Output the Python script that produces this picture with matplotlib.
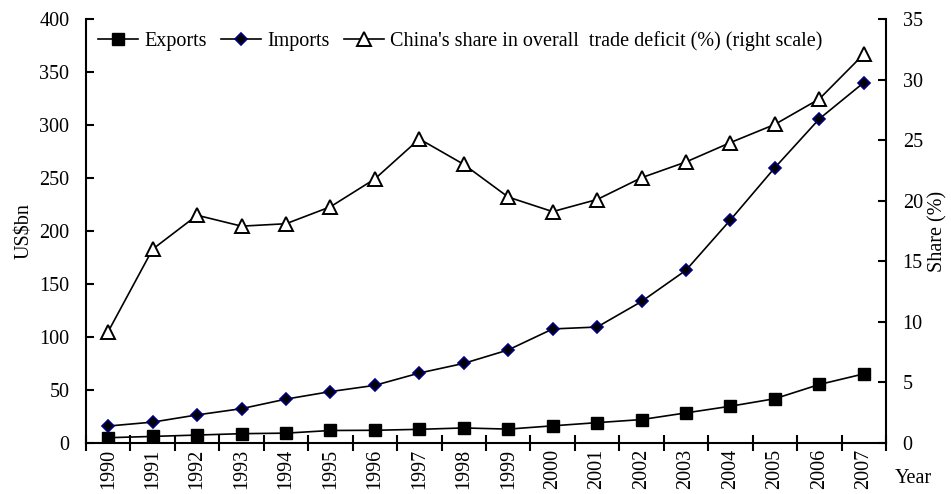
import matplotlib
matplotlib.use("Agg")
import matplotlib.pyplot as plt
import numpy as np

years = ["1990", "1991", "1992", "1993", "1994", "1995", "1996", "1997", "1998",
         "1999", "2000", "2001", "2002", "2003", "2004", "2005", "2006", "2007"]
exports = [5.0, 6.2, 7.5, 8.8, 9.3, 11.8, 12.0, 12.9, 14.2, 13.1, 16.2, 19.2,
           22.1, 28.4, 34.7, 41.8, 55.2, 65.2]
imports = [16.0, 19.7, 26.5, 32.4, 41.4, 48.5, 54.4, 66.0, 75.1, 87.8, 107.6,
           109.4, 133.5, 163.0, 210.5, 259.8, 305.8, 340.0]
share = [9.2, 16.0, 18.8, 17.9, 18.1, 19.5, 21.8, 25.1, 23.0, 20.3, 19.1, 20.1,
         21.9, 23.2, 24.8, 26.3, 28.4, 32.1]

plt.rcParams['font.family'] = ['Liberation Serif', 'DejaVu Serif']
FS = 14.5

fig = plt.figure(figsize=(9.51, 4.94), dpi=100)
ax = fig.add_axes([86/951, 51/494, 800/951, 424/494])
ax2 = ax.twinx()

x = np.arange(len(years))
l1, = ax.plot(x, exports, color='black', lw=1.2, marker='s', ms=8.5,
              mfc='black', mec='black', label='Exports')
l2, = ax.plot(x, imports, color='black', lw=1.2, marker='D', ms=6.5,
              mfc='black', mec='#000080', mew=1.2, label='Imports')
l3, = ax2.plot(x, share, color='black', lw=1.2, marker='^', ms=9.5,
               mfc='white', mec='black', mew=1.4,
               label="China's share in overall  trade deficit (%) (right scale)")

ax.set_xlim(-0.5, len(years) - 0.5)
ax.set_ylim(0, 400)
ax2.set_ylim(0, 35)
ax.set_yticks(np.arange(0, 401, 50))
ax2.set_yticks(np.arange(0, 36, 5))

ax.set_xticks(np.arange(-0.5, len(years), 1))
ax.set_xticklabels([])
ax.set_xticks(x, minor=True)
ax.set_xticklabels(years, minor=True, rotation=90, fontsize=FS)
ax.tick_params(axis='x', which='major', direction='inout', length=12, width=1.5)
ax.tick_params(axis='x', which='minor', length=0, pad=4)
ax.tick_params(axis='y', direction='in', length=6, width=1.5, labelsize=FS, pad=12)
ax2.tick_params(axis='y', direction='in', length=6, width=1.5, labelsize=FS, pad=12)

for a in (ax, ax2):
    a.spines['top'].set_visible(False)
    for s in ('left', 'right', 'bottom'):
        a.spines[s].set_linewidth(1.5)
ax.spines['right'].set_visible(False)
ax2.spines['left'].set_visible(False)
ax2.spines['bottom'].set_visible(False)

ax.set_ylabel('US$bn', fontsize=FS, labelpad=4)
ax2.set_ylabel('Share (%)', fontsize=FS, rotation=90, labelpad=4)
fig.text(913/951, 1 - 478/494, 'Year', fontsize=FS, ha='center', va='center')

leg = ax.legend(handles=[l1, l2, l3], loc='upper left', bbox_to_anchor=(0.0, 1.0),
                ncol=3, frameon=False, fontsize=FS, handlelength=2.0,
                handletextpad=0.3, columnspacing=0.7, borderaxespad=0.2)

fig.savefig('out.png', dpi=100)
